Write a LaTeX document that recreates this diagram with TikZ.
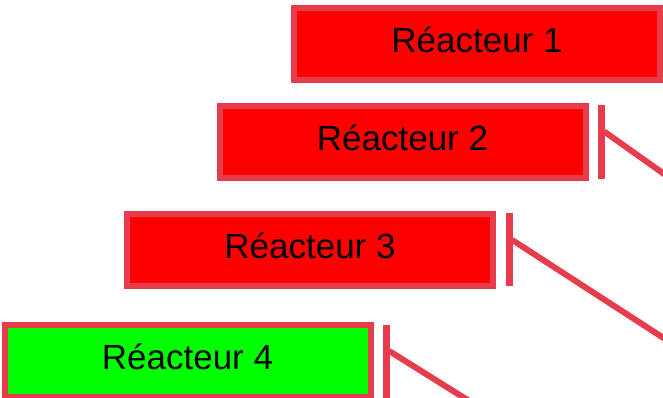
\documentclass[tikz,border=0pt]{standalone}
\usepackage{fontspec}
\setmainfont{Liberation Sans}
\definecolor{edge}{RGB}{230,60,76}
\definecolor{boxred}{RGB}{255,0,0}
\definecolor{boxgreen}{RGB}{0,255,0}
\begin{document}
\begin{tikzpicture}[x=1pt,y=-1pt,
  reactor/.style={draw=edge, line width=6pt, rectangle, inner sep=0pt,
    minimum width=366pt, minimum height=72pt,
    font=\fontsize{35}{35}\selectfont, text height=25pt, text depth=8pt},
  tick/.style={fill=edge, draw=none, rectangle, inner sep=0pt,
    minimum width=7pt, minimum height=73pt},
  link/.style={draw=edge, line width=6pt}]
\useasboundingbox (0,0) rectangle (663,398);
\node[reactor, fill=boxred] (r1) at (477,44.5) {Réacteur 1};
\node[reactor, fill=boxred] (r2) at (402.5,142) {Réacteur 2};
\node[reactor, fill=boxred] (r3) at (310,250) {Réacteur 3};
\node[reactor, fill=boxgreen] (r4) at (187.5,361) {Réacteur 4};
\coordinate (e2) at (705,203);
\coordinate (e3) at (713,370);
\coordinate (e4) at (490,414);
\node[tick] (t2) at (601.5,142) {};
\node[tick] (t3) at (509.5,249.5) {};
\node[tick] (t4) at (386.5,361.5) {};
\draw[link] ([yshift=10.5pt,xshift=-1pt]t2.east) -- (e2);
\draw[link] ([yshift=9.5pt,xshift=-1pt]t3.east) -- (e3);
\draw[link] ([yshift=10.5pt,xshift=-1pt]t4.east) -- (e4);
\end{tikzpicture}
\end{document}
